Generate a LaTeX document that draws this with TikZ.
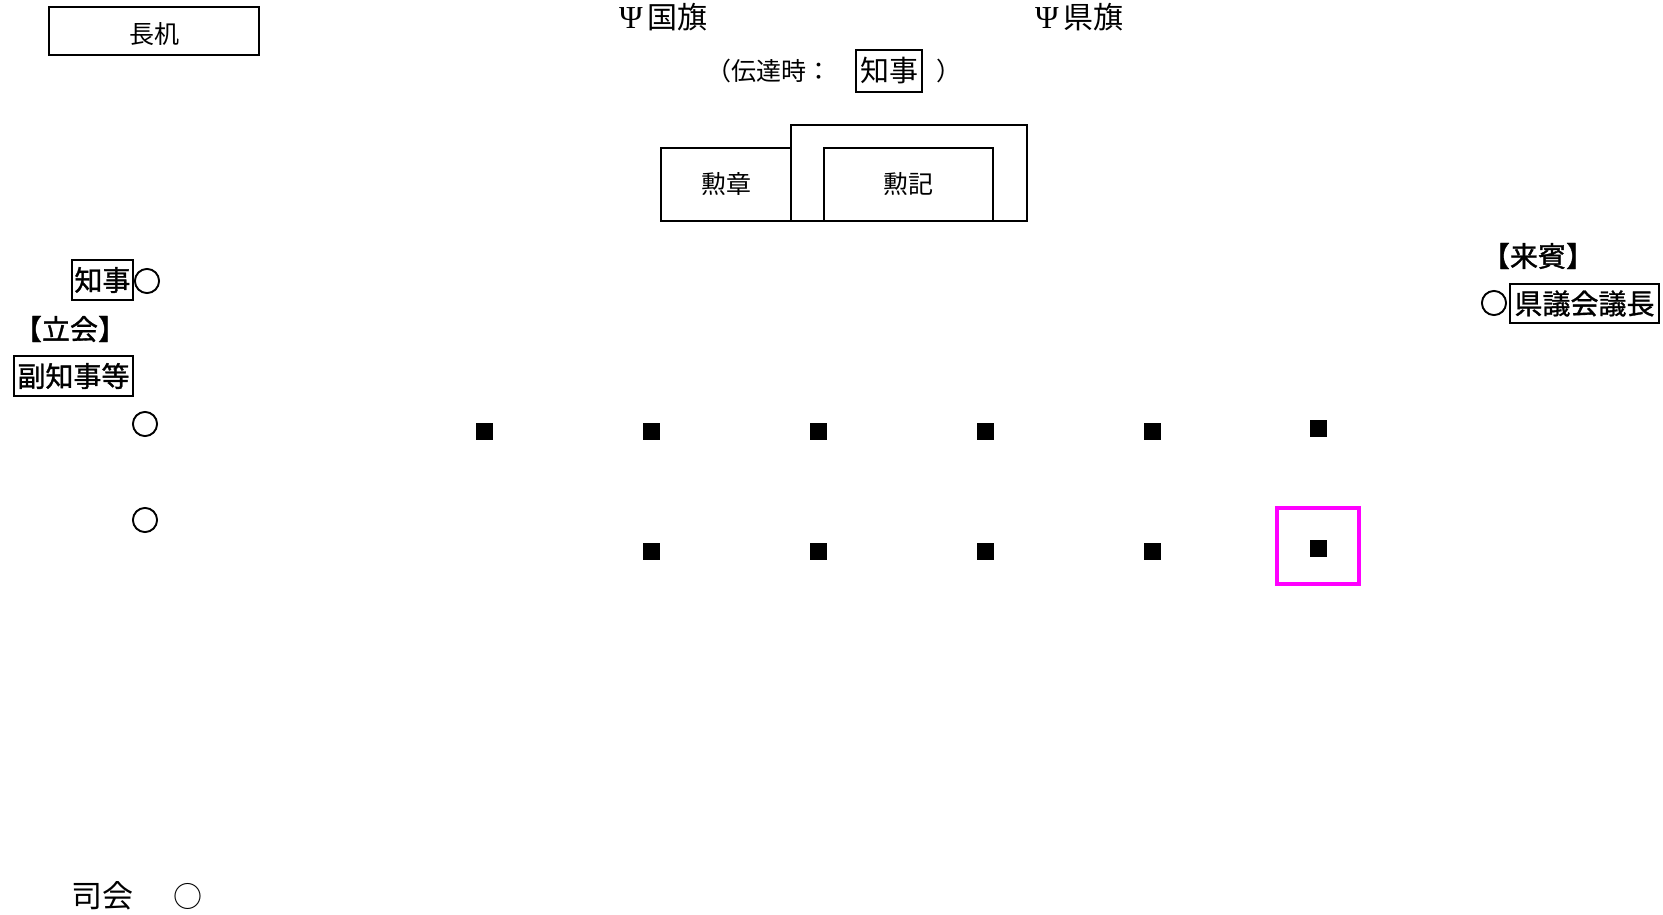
\documentclass[tikz,border=0pt]{standalone}
\usepackage{fontspec}
\newfontfamily\cjk{Noto Sans CJK JP}
\newfontfamily\cjkb{Noto Sans CJK JP}[FakeBold=1.2]
\newfontfamily\cjkc{Noto Sans CJK JP}[FakeBold=3]
\newfontfamily\psifont{Liberation Serif}
\definecolor{hlmag}{RGB}{255,0,255}
\begin{document}
\begin{tikzpicture}[x=1pt,y=-1pt,
  lab/.style={font=\cjk\fontsize{25}{25}\selectfont, inner sep=0pt},
  glab/.style={font=\cjkb\fontsize{28}{28}\selectfont, inner sep=0pt},
  frame/.style={draw, line width=1.8pt, inner sep=0pt},
  sq/.style={fill=black, minimum size=17pt, inner sep=0pt},
  circ/.style={font=\cjkc\fontsize{28}{28}\selectfont, inner sep=0pt}]
\useasboundingbox (0,0) rectangle (1663,914);
\fill[white] (0,0) rectangle (1663,914);
% long desk
\node[frame, minimum width=210, minimum height=48] (desk) at (154,31) {};
\node[lab] (desklab) at (154,34) {長机};
% flags
\node[lab, font=\cjk\fontsize{30}{30}\selectfont, anchor=west] (kokki) at (619,17) {{\psifont\fontsize{32}{32}\selectfont Ψ}\hspace{5pt}国旗};
\node[lab, font=\cjk\fontsize{30}{30}\selectfont, anchor=west] (kenki) at (1035,17) {{\psifont\fontsize{32}{32}\selectfont Ψ}\hspace{5pt}県旗};
% transmission note
\node[lab, anchor=west] (dentatsu) at (706,71) {（伝達時：};
\node[frame, font=\cjk\fontsize{29}{29}\selectfont, inner sep=0pt, minimum width=66, minimum height=42] (chijiT) at (889,71) {知事};
\node[lab] (paren) at (949,71) {）};
% tables
\node[frame, minimum width=236, minimum height=96] (outer) at (909,173) {};
\node[frame, lab, minimum width=130, minimum height=73] (kunsho) at (726,184.5) {勲章};
\node[frame, lab, minimum width=169, minimum height=73] (kunki) at (908.5,184.5) {勲記};
% left side
\node[frame, glab, minimum width=61, minimum height=40] (chijiL) at (102.5,280) {知事};
\node[circ] (c1) at (147,281) {○};
\node[glab] (tachiai) at (70,329) {【立会】};
\node[frame, glab, minimum width=119, minimum height=40] (fuku) at (73.5,376) {副知事等};
\node[circ] (c2) at (145,424) {○};
\node[circ] (c3) at (145,520) {○};
% right side
\node[glab] (raihin) at (1538,256) {【来賓】};
\node[circ] (c4) at (1494,303) {○};
\node[frame, glab, minimum width=149, minimum height=39] (gicho) at (1584.5,303.5) {県議会議長};
% seats
\node[sq] (s11) at (484,431) {};
\node[sq] (s12) at (651,431) {};
\node[sq] (s13) at (818,431) {};
\node[sq] (s14) at (985,431) {};
\node[sq] (s15) at (1152,431) {};
\node[sq] (s16) at (1318,428) {};
\node[sq] (s22) at (651,551) {};
\node[sq] (s23) at (818,551) {};
\node[sq] (s24) at (985,551) {};
\node[sq] (s25) at (1152,551) {};
\node[sq] (s26) at (1318,548) {};
\node[draw=hlmag, line width=3.5pt, minimum width=82, minimum height=76, inner sep=0pt] (hl) at (1318,546) {};
% MC
\node[lab, font=\cjk\fontsize{31}{31}\selectfont] (shikai) at (102,896) {司会};
\node[lab, font=\cjk\fontsize{29}{29}\selectfont] (c5) at (188,896) {○};
\end{tikzpicture}
\end{document}
